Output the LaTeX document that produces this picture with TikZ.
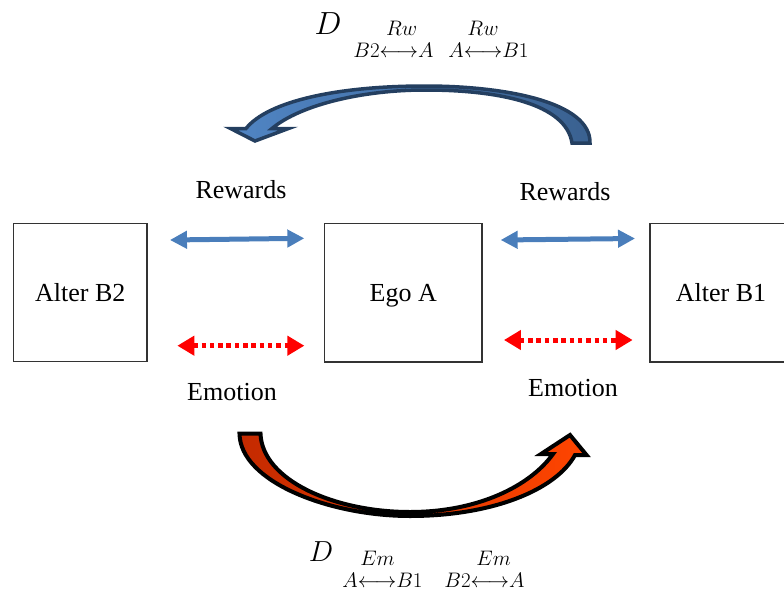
\RequirePackage{fix-cm}
\documentclass[tikz,border=0pt]{standalone}
\usepackage{fontspec}
\setmainfont{Liberation Serif}
\usetikzlibrary{arrows.meta}

\definecolor{rwblue}{HTML}{4A7EBB}
\definecolor{navy}{HTML}{243F60}
\definecolor{arcblueL}{HTML}{5085C4}
\definecolor{arcblueR}{HTML}{3A6190}
\definecolor{arcredL}{HTML}{C42A00}
\definecolor{arcredR}{HTML}{FF4500}

\tikzset{
  agent/.style={draw=black!80, line width=1.3pt, inner sep=0pt, text depth=0pt,
    font=\fontsize{26}{30}\selectfont},
  lbl/.style={inner sep=0pt, anchor=base, font=\fontsize{26}{30}\selectfont},
  fml/.style={inner sep=0pt, anchor=base, font=\fontsize{21}{24}\selectfont},
  bigD/.style={inner sep=0pt, anchor=base},
  rwarrow/.style={draw=rwblue, line width=5pt,
    {Triangle[length=17pt,width=17pt]}-{Triangle[length=17pt,width=17pt]}},
  emarrow/.style={draw=red, line width=5pt, dash pattern=on 4.5pt off 3.8pt,
    {Triangle[length=17pt,width=19pt]}-{Triangle[length=17pt,width=19pt]}},
  rwarc/.style={draw=navy, line width=3.5pt, line join=miter,
    left color=arcblueL, right color=arcblueR},
  emarc/.style={draw=black, line width=4pt, line join=miter,
    left color=arcredL, right color=arcredR},
}

\begin{document}
\begin{tikzpicture}[x=1pt,y=-1pt]
\useasboundingbox (0,0) rectangle (784,594);

% the three actors
\node[agent, minimum width=133.5pt, minimum height=138.5pt] (b2) at (80.25,292.5) {Alter B2};
\node[agent, minimum width=157.7pt, minimum height=138.7pt] (ego) at (403.2,292.7) {Ego A};
\node[agent, minimum width=142pt, minimum height=138.7pt] (b1) at (721,292.7) {Alter B1};

% reward exchanges
\draw[rwarrow] ([xshift=22.3pt,yshift=52.5pt]b2.east) -- ([xshift=-19.35pt,yshift=54.4pt]ego.west);
\draw[rwarrow] ([xshift=17.95pt,yshift=52.7pt]ego.east) -- ([xshift=-14.3pt,yshift=54.2pt]b1.west);

% emotional exchanges
\draw[emarrow] ([xshift=29.7pt,yshift=-53.2pt]b2.east) -- ([xshift=-19.35pt,yshift=-53pt]ego.west);
\draw[emarrow] ([xshift=21.25pt,yshift=-47.3pt]ego.east) -- ([xshift=-16.7pt,yshift=-47.3pt]b1.west);

% labels
\node[lbl] (rw1) at (241,198) {Rewards};
\node[lbl] (rw2) at (565,200) {Rewards};
\node[lbl] (em1) at (232,400) {Emotion};
\node[lbl] (em2) at (573,396.7) {Emotion};

% upper curved arrow (rewards diffusion)
\draw[rwarc] (590,143) .. controls (591,102) and (505,86) .. (425,86)
  .. controls (338,86) and (268,101) .. (246,128.5)
  -- (230.5,128.5) -- (255,141) -- (288.5,128.5) -- (272,128.5)
  .. controls (300,105) and (362,90) .. (425,90)
  .. controls (500,90) and (566,104) .. (572,143) -- cycle;

% lower curved arrow (emotion diffusion)
\draw[emarc] (239.5,433.5) .. controls (240,482) and (330,516) .. (410,516)
  .. controls (492,516) and (556,490) .. (575,455)
  -- (586.5,455) -- (570,435) -- (541,454) -- (553,454)
  .. controls (530,486) and (478,512) .. (410,512)
  .. controls (334,512) and (262,480) .. (260.5,433.5) -- cycle;

% upper index
\node[bigD, font=\fontsize{32}{34}\selectfont] (dtop) at (328,35) {$D$};
\node[fml] (st1) at (393.5,57) {$B2{\longleftrightarrow}A$};
\node[fml] (ut1) at (401.7,35.5) {$Rw$};
\node[fml] (st2) at (488.5,57) {$A{\longleftrightarrow}B1$};
\node[fml] (ut2) at (483,35.5) {$Rw$};

% lower index
\node[bigD, font=\fontsize{29}{31}\selectfont] (dbot) at (321,561.7) {$D$};
\node[fml] (sb1) at (382.5,587) {$A{\longleftrightarrow}B1$};
\node[fml] (ub1) at (377.5,565.5) {$Em$};
\node[fml] (sb2) at (484.5,587) {$B2{\longleftrightarrow}A$};
\node[fml] (ub2) at (493.7,565.5) {$Em$};
\end{tikzpicture}
\end{document}
